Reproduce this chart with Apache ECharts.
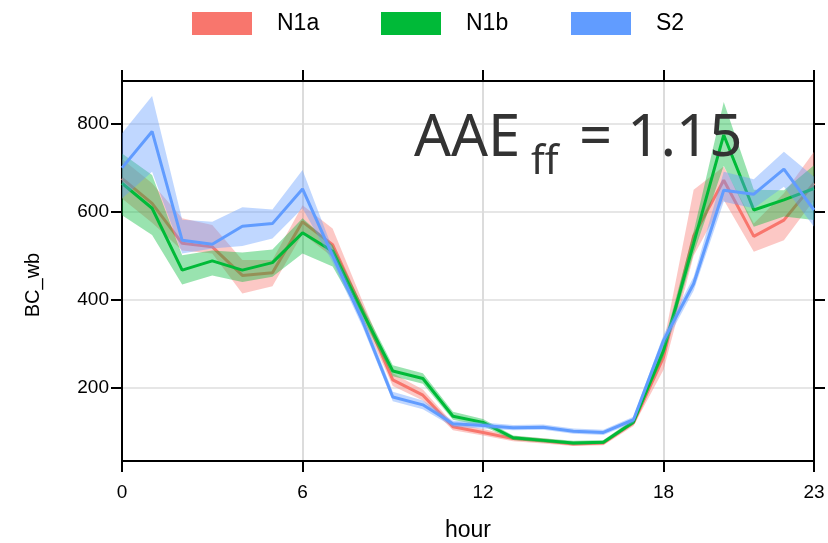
<!DOCTYPE html>
<html>
<head>
<meta charset="utf-8">
<script src="https://cdn.jsdelivr.net/npm/echarts@6/dist/echarts.min.js"></script>
<style>
  html, body { margin: 0; padding: 0; background: #fff; }
  #chart { width: 828px; height: 543px; }
</style>
</head>
<body>
<div id="chart"></div>
<script>
// hour of day
const hours = ['0','1','2','3','4','5','6','7','8','9','10','11','12','13','14','15','16','17','18','19','20','21','22','23']
const yTicks = [200, 400, 600, 800]

// N1a mean and band
const n1a   = [676, 619, 528, 520, 455, 461, 577, 525, 375, 217, 182, 110, 97, 83, 78, 71, 73, 119, 269, 545, 672, 544, 581, 665]
const n1aLo = [630, 575, 512, 505, 414, 430, 550, 497, 355, 203, 170, 102, 90, 77, 72, 66, 68, 112, 240, 500, 627, 509, 535, 627]
const n1aHi = [720, 665, 585, 570, 490, 490, 615, 562, 395, 232, 195, 118, 105, 89, 84, 76, 78, 126, 300, 650, 703, 573, 642, 737]

// N1b mean and band
const n1b   = [665, 608, 467, 488, 467, 484, 552, 510, 370, 237, 220, 134, 120, 85, 79, 73, 75, 121, 284, 528, 775, 604, 627, 653]
const n1bLo = [592, 547, 434, 455, 440, 452, 505, 475, 355, 225, 208, 126, 112, 80, 74, 69, 71, 115, 270, 505, 705, 566, 589, 581]
const n1bHi = [733, 684, 501, 512, 507, 514, 585, 524, 385, 250, 232, 144, 128, 90, 84, 78, 80, 127, 298, 555, 850, 650, 649, 706]

// S2 mean and band
const s2   = [700, 783, 535, 526, 567, 573, 652, 500, 350, 178, 160, 117, 113, 108, 109, 100, 97, 126, 307, 436, 649, 640, 697, 604]
const s2Lo = [630, 691, 505, 516, 522, 539, 608, 485, 337, 168, 150, 110, 106, 102, 103, 94, 91, 119, 293, 420, 623, 608, 657, 566]
const s2Hi = [779, 864, 582, 577, 610, 605, 695, 515, 365, 190, 170, 124, 120, 114, 115, 106, 103, 133, 320, 452, 691, 674, 737, 680]

const groups = [
  { name: 'N1a', color: '#F8766D', mid: n1a, lo: n1aLo, hi: n1aHi },
  { name: 'N1b', color: '#00BA38', mid: n1b, lo: n1bLo, hi: n1bHi },
  { name: 'S2', color: '#619CFF', mid: s2, lo: s2Lo, hi: s2Hi }
]

const isMajor = i => i % 6 === 0 || i === 23

const series = []
groups.forEach((g, k) => {
  const z = 2 + k
  series.push({
    name: g.name + '_lo',
    type: 'line',
    stack: 'band' + k,
    data: g.lo,
    symbol: 'none',
    silent: true,
    z: z,
    lineStyle: { opacity: 0 }
  })
  series.push({
    name: g.name + '_band',
    type: 'line',
    stack: 'band' + k,
    data: g.hi.map((v, i) => v - g.lo[i]),
    symbol: 'none',
    silent: true,
    z: z,
    lineStyle: { opacity: 0 },
    areaStyle: { color: g.color, opacity: 0.4 }
  })
  series.push({
    name: g.name,
    type: 'line',
    data: g.mid,
    symbol: 'none',
    z: z,
    itemStyle: { color: g.color },
    lineStyle: { color: g.color, width: 3 }
  })
})

const legendAt = [192, 381, 571]
const legends = groups.map((g, k) => ({
  data: [g.name],
  left: legendAt[k],
  top: 12,
  padding: 0,
  icon: 'rect',
  itemWidth: 60,
  itemHeight: 23,
  selectedMode: false,
  textStyle: { fontFamily: 'Liberation Sans', fontSize: 23, color: '#000', padding: [0, 0, 0, 20] }
}))

const chart = echarts.init(document.getElementById('chart'))
chart.setOption({
  animation: false,
  backgroundColor: '#fff',
  legend: legends,
  grid: { left: 122, right: 14, top: 81, bottom: 82, outerBoundsMode: 'none', containLabel: false },
  xAxis: [{
    type: 'category',
    data: hours,
    boundaryGap: false,
    name: 'hour',
    nameLocation: 'middle',
    nameGap: 58,
    nameTextStyle: { fontFamily: 'Liberation Sans', fontSize: 23, color: '#000' },
    axisLine: { lineStyle: { color: '#000', width: 2 } },
    axisTick: { interval: (i) => isMajor(i), length: 11, lineStyle: { color: '#000', width: 2 } },
    axisLabel: { interval: (i) => isMajor(i), margin: 22, fontFamily: 'Liberation Sans', fontSize: 19, color: '#000' },
    splitLine: { show: true, interval: (i) => i % 6 === 0 && i > 0 && i < 23, lineStyle: { color: '#dcdcdc', width: 2 } }
  }, {
    type: 'category',
    data: hours,
    boundaryGap: false,
    position: 'top',
    axisLine: { lineStyle: { color: '#000', width: 2 } },
    axisTick: { interval: (i) => isMajor(i), length: 11, lineStyle: { color: '#000', width: 2 } },
    axisLabel: { show: false },
    splitLine: { show: false }
  }],
  yAxis: [{
    type: 'value',
    min: 32,
    max: 898,
    axisLine: { show: true, lineStyle: { color: '#000', width: 2 } },
    axisTick: { show: true, customValues: yTicks, length: 11, lineStyle: { color: '#000', width: 2 } },
    axisLabel: { customValues: yTicks, margin: 13, fontFamily: 'Liberation Sans', fontSize: 19, color: '#000' },
    splitLine: { show: true, lineStyle: { color: '#e6e6e6', width: 2 } }
  }, {
    type: 'value',
    min: 32,
    max: 898,
    position: 'right',
    axisLine: { show: true, lineStyle: { color: '#000', width: 2 } },
    axisTick: { show: true, customValues: yTicks, length: 11, lineStyle: { color: '#000', width: 2 } },
    axisLabel: { show: false },
    splitLine: { show: false }
  }],
  graphic: [
    { type: 'text', x: 33, y: 285, rotation: Math.PI / 2, z: 100,
      style: { text: 'BC_wb', fontFamily: 'Liberation Sans', fontSize: 20, fill: '#000', align: 'center', verticalAlign: 'middle' } },
    { type: 'text', left: 414, top: 110, z: 100, style: { text: 'AAE', fontFamily: 'Noto Sans', fontSize: 58, fill: '#333' } },
    { type: 'text', left: 531, top: 143, z: 100, style: { text: 'ff', fontFamily: 'Noto Sans', fontSize: 40, fill: '#333' } },
    { type: 'text', left: 579, top: 110, z: 100, style: { text: '= 1.15', fontFamily: 'Noto Sans', fontSize: 58, fill: '#333' } }
  ],
  series: series
})
</script>
</body>
</html>
